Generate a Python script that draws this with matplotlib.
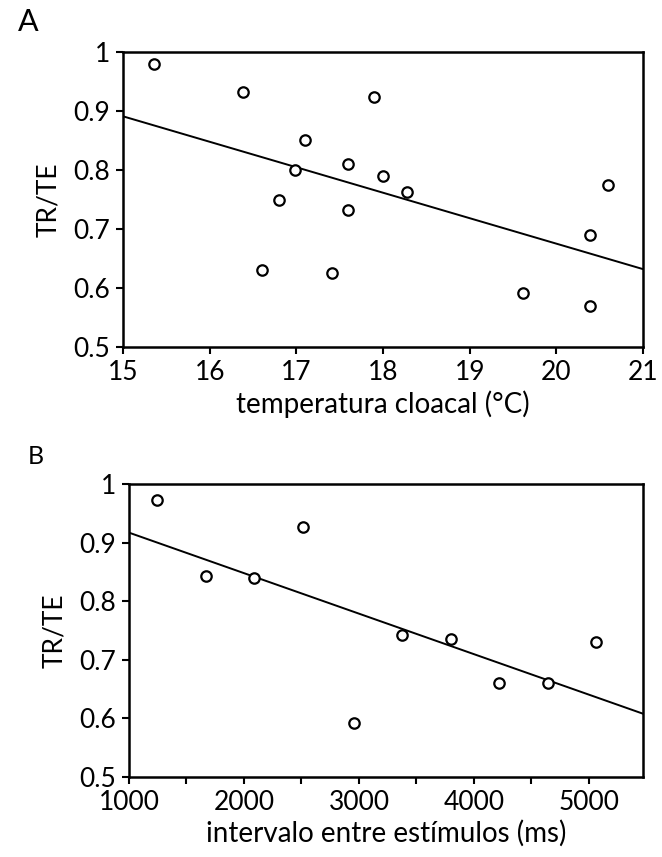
import matplotlib
matplotlib.use("Agg")
import matplotlib.pyplot as plt
import numpy as np

# Panel A: temperatura cloacal vs TR/TE
temp_c = [15.36, 16.39, 17.90, 17.10, 16.98, 16.80, 16.60, 17.60, 18.00,
          18.28, 17.60, 17.41, 20.60, 20.39, 19.61, 20.39]
trte_a = [0.979, 0.932, 0.923, 0.851, 0.800, 0.750, 0.631, 0.811, 0.789,
          0.762, 0.732, 0.625, 0.775, 0.690, 0.592, 0.569]
fit_a_x = [15, 21]
fit_a_y = [0.891, 0.632]

# Panel B: intervalo entre estímulos vs TR/TE
isi_ms = [1245, 1670, 2090, 2515, 2957, 3373, 3801, 4217, 4641, 5058]
trte_b = [0.973, 0.843, 0.840, 0.927, 0.592, 0.742, 0.736, 0.660, 0.660, 0.731]
fit_b_x = [1000, 5470]
fit_b_y = [0.917, 0.608]

plt.rcParams['font.family'] = ['Lato', 'DejaVu Sans']

W, H = 662, 857
fig = plt.figure(figsize=(W / 100, H / 100), dpi=100)


def style_axes(ax):
    for s in ax.spines.values():
        s.set_linewidth(1.8)
    ax.tick_params(direction="out", length=5, width=1.5, labelsize=19, pad=4)
    ax.set_ylim(0.5, 1.0)
    ax.set_yticks([0.5, 0.6, 0.7, 0.8, 0.9, 1.0])
    ax.set_yticklabels(["0.5", "0.6", "0.7", "0.8", "0.9", "1"])
    ax.set_ylabel("TR/TE", fontsize=19, labelpad=9)


# ---- A ----
axA = fig.add_axes([123 / W, 1 - 347 / H, 520 / W, 295 / H])
axA.plot(fit_a_x, fit_a_y, color="black", lw=1.4)
axA.plot(temp_c, trte_a, "o", mfc="white", mec="black", ms=7.5, mew=1.6)
axA.set_xlim(15, 21)
axA.set_xticks(range(15, 22))
axA.set_xlabel("temperatura cloacal (°C)", fontsize=20, labelpad=4)
style_axes(axA)
fig.text(18 / W, 1 - 22 / H, "A", fontsize=22, va="center", ha="left")

# ---- B ----
axB = fig.add_axes([129 / W, 1 - 777 / H, 514 / W, 293 / H])
axB.plot(fit_b_x, fit_b_y, color="black", lw=1.4)
axB.plot(isi_ms, trte_b, "o", mfc="white", mec="black", ms=7.5, mew=1.6)
axB.set_xlim(1000, 5470)
axB.set_xticks([1000, 2000, 3000, 4000, 5000])
axB.set_xticks(np.arange(1500, 5500, 1000), minor=True)
axB.tick_params(axis="x", which="minor", direction="out", length=5, width=1.5)
axB.set_xlabel("intervalo entre estímulos (ms)", fontsize=20, labelpad=4)
style_axes(axB)
fig.text(28 / W, 1 - 457 / H, "B", fontsize=18, va="center", ha="left")

fig.savefig("out.png", dpi=100)
